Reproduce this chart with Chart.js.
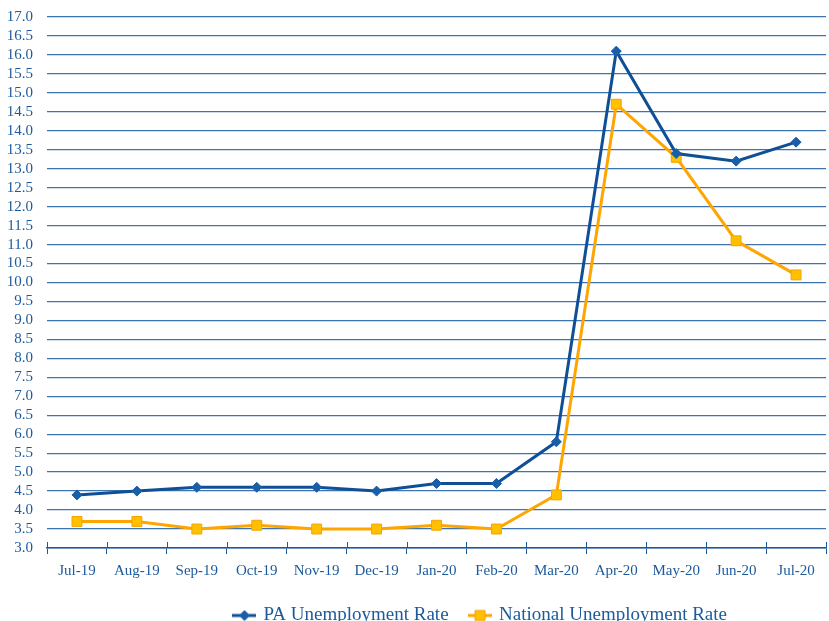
<!DOCTYPE html>
<html lang="en">
<head>
    <meta charset="UTF-8">
    <title>PA vs National Unemployment Rate</title>
    <style>
        html, body { margin: 0; padding: 0; background: #fff; overflow: hidden; }
        .chart-container { position: relative; width: 834px; height: 645px; margin-top: -6px; }
    </style>
</head>
<body>
    <div class="chart-container">
        <canvas id="unemploymentChart"></canvas>
    </div>

    <script src="https://cdn.jsdelivr.net/npm/chart.js"></script>
    <script>
        // Datos
        const months = ['Jul-19', 'Aug-19', 'Sep-19', 'Oct-19', 'Nov-19', 'Dec-19', 'Jan-20',
                        'Feb-20', 'Mar-20', 'Apr-20', 'May-20', 'Jun-20', 'Jul-20'];
        const paRate = [4.4, 4.5, 4.6, 4.6, 4.6, 4.5, 4.7, 4.7, 5.8, 16.1, 13.4, 13.2, 13.7];
        const nationalRate = [3.7, 3.7, 3.5, 3.6, 3.5, 3.5, 3.6, 3.5, 4.4, 14.7, 13.3, 11.1, 10.2];

        const axisBlue = '#1c5a9c';
        const gridBlue = '#3d74b0';
        const fontFamily = "'Liberation Serif', serif";

        // Icono de leyenda: linea con marcador
        function legendIcon(lineColor, fill, border, shape) {
            const c = document.createElement('canvas');
            c.width = 24; c.height = 14;
            const g = c.getContext('2d');
            g.strokeStyle = lineColor;
            g.lineWidth = 3;
            g.beginPath(); g.moveTo(0, 7); g.lineTo(24, 7); g.stroke();
            g.fillStyle = fill;
            g.strokeStyle = border;
            g.lineWidth = 1;
            g.beginPath();
            if (shape === 'diamond') {
                g.moveTo(12, 2); g.lineTo(17, 7); g.lineTo(12, 12); g.lineTo(7, 7);
                g.closePath();
            } else {
                g.rect(7, 2, 10, 10);
            }
            g.fill(); g.stroke();
            return c;
        }

        // Marcas del eje X que cruzan la linea del eje + leyenda desplazada como en Excel
        const excelTweaks = {
            id: 'excelTweaks',
            afterLayout(chart) {
                chart.legend.left += 64;
                chart.legend.right += 64;
                chart.legend.top -= 4;
                chart.legend.bottom -= 4;
            },
            afterDraw(chart) {
                const x = chart.scales.x;
                const g = chart.ctx;
                const half = (x.getPixelForValue(1) - x.getPixelForValue(0)) / 2;
                g.save();
                g.strokeStyle = axisBlue;
                g.lineWidth = 1;
                for (let i = 0; i <= months.length; i++) {
                    const px = Math.round(x.getPixelForValue(i) - half) + 0.5;
                    g.beginPath();
                    g.moveTo(px, x.top - 6);
                    g.lineTo(px, x.top);
                    g.stroke();
                }
                g.restore();
            }
        };

        const ctx = document.getElementById('unemploymentChart').getContext('2d');
        new Chart(ctx, {
            type: 'line',
            data: {
                labels: months,
                datasets: [
                    {
                        label: 'PA Unemployment Rate',
                        data: paRate,
                        borderColor: '#0f4f96',
                        borderWidth: 3,
                        pointStyle: 'rectRot',
                        pointRadius: 5,
                        pointBackgroundColor: '#1a5ea8',
                        pointBorderColor: '#1a5ea8',
                        pointBorderWidth: 1,
                        tension: 0
                    },
                    {
                        label: 'National Unemployment Rate',
                        data: nationalRate,
                        borderColor: '#ffa500',
                        borderWidth: 3,
                        pointStyle: 'rect',
                        pointRadius: 7,
                        pointBackgroundColor: '#ffc000',
                        pointBorderColor: '#f5a300',
                        pointBorderWidth: 1,
                        tension: 0
                    }
                ]
            },
            options: {
                responsive: true,
                maintainAspectRatio: false,
                animation: false,
                layout: { padding: { top: 2, right: 0, left: 0, bottom: 0 } },
                scales: {
                    x: {
                        offset: true,
                        grid: {
                            offset: true,
                            drawOnChartArea: false,
                            color: axisBlue,
                            tickLength: 6
                        },
                        border: { color: axisBlue, width: 1.5 },
                        ticks: {
                            color: axisBlue,
                            font: { family: fontFamily, size: 15 },
                            padding: 8,
                            maxRotation: 0,
                            autoSkip: false
                        }
                    },
                    y: {
                        min: 3,
                        max: 17,
                        afterFit: (scale) => { scale.width = 47; },
                        grid: {
                            color: gridBlue,
                            lineWidth: 1.3,
                            drawTicks: false
                        },
                        border: { display: false },
                        ticks: {
                            stepSize: 0.5,
                            autoSkip: false,
                            color: axisBlue,
                            font: { family: fontFamily, size: 15 },
                            padding: 14,
                            callback: (v) => Number(v).toFixed(1)
                        }
                    }
                },
                plugins: {
                    legend: {
                        position: 'bottom',
                        labels: {
                            color: axisBlue,
                            font: { family: fontFamily, size: 19 },
                            usePointStyle: true,
                            padding: 22,
                            generateLabels: () => [
                                {
                                    text: 'PA Unemployment Rate',
                                    pointStyle: legendIcon('#0f4f96', '#1a5ea8', '#1a5ea8', 'diamond'),
                                    fontColor: axisBlue,
                                    lineWidth: 0,
                                    datasetIndex: 0
                                },
                                {
                                    text: 'National Unemployment Rate',
                                    pointStyle: legendIcon('#ffa500', '#ffc000', '#f5a300', 'square'),
                                    fontColor: axisBlue,
                                    lineWidth: 0,
                                    datasetIndex: 1
                                }
                            ]
                        }
                    },
                    tooltip: { enabled: false }
                }
            },
            plugins: [excelTweaks]
        });
    </script>
</body>
</html>
